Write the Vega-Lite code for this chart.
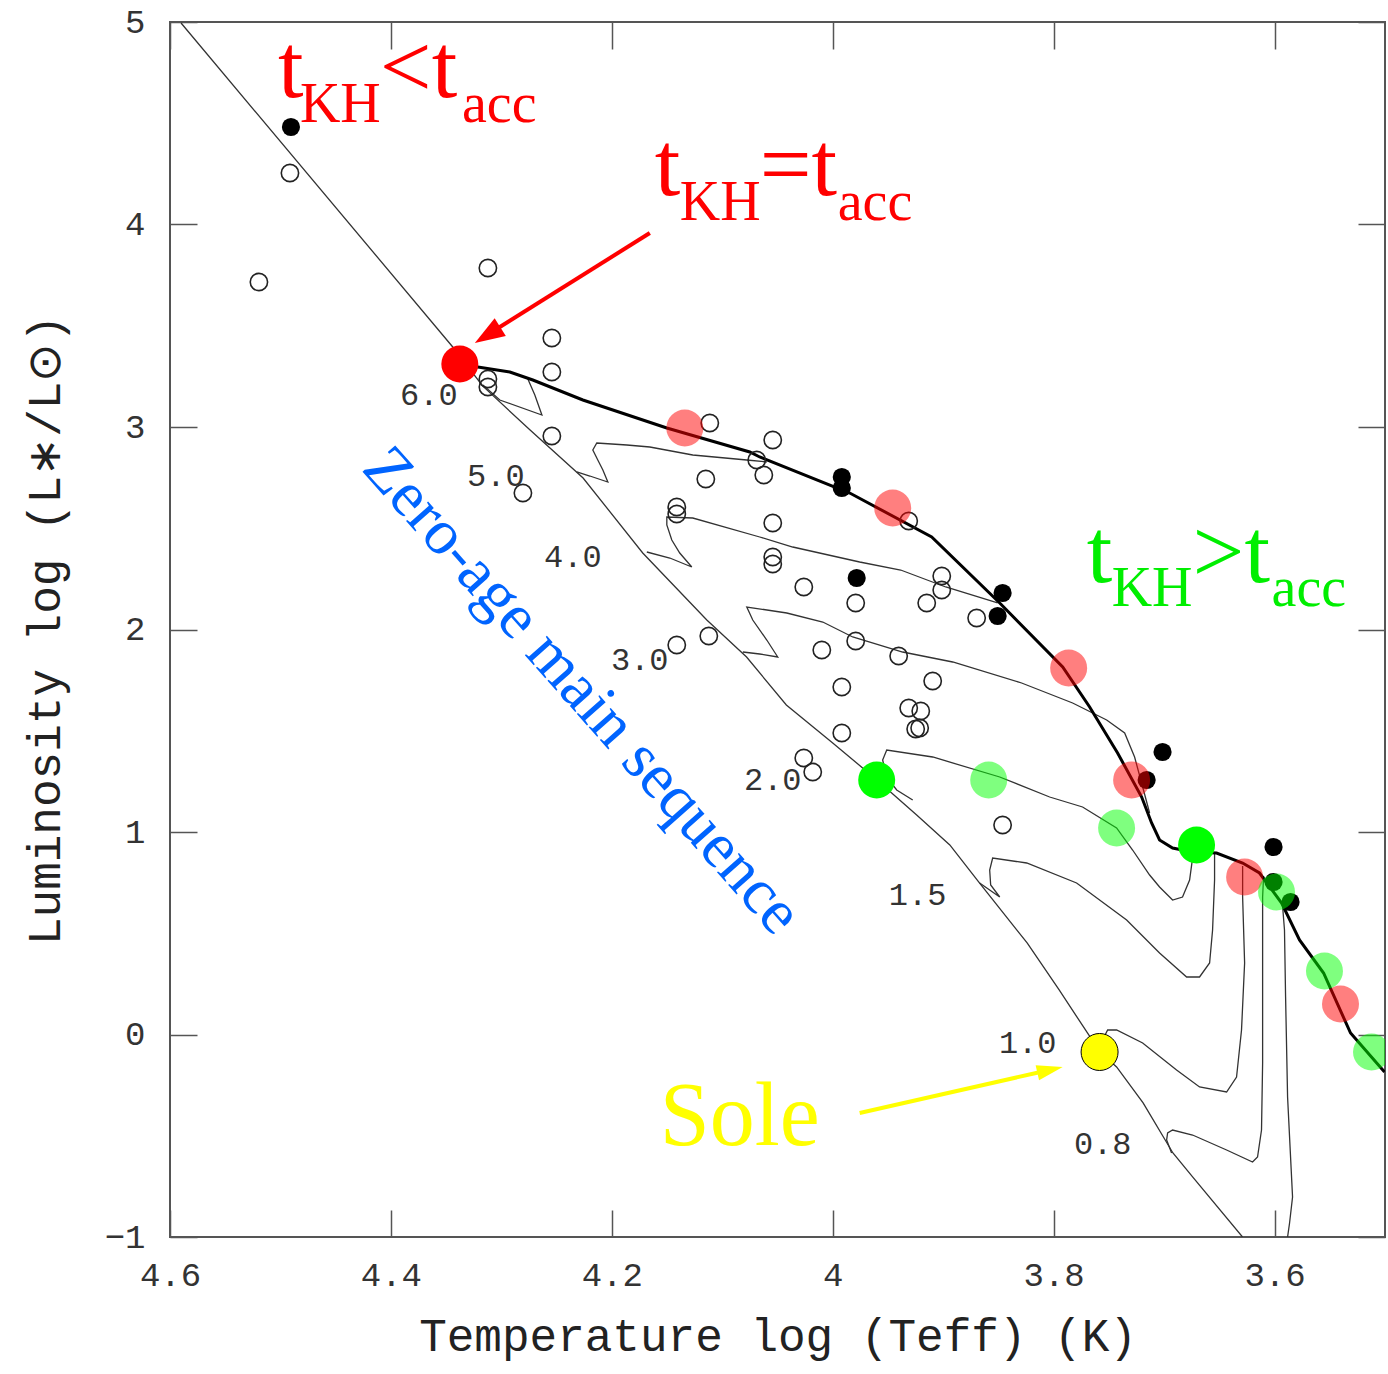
{
  "$schema": "https://vega.github.io/schema/vega-lite/v6.json",
  "width": 1215,
  "height": 1215,
  "autosize": "none",
  "padding": {"left": 170, "top": 22, "right": 3, "bottom": 137},
  "background": "white",
  "config": {
    "view": {"stroke": "#555", "strokeWidth": 2},
    "axis": {
      "labelFont": "Liberation Mono", "titleFont": "Liberation Mono",
      "labelColor": "#333", "titleColor": "#222", "tickColor": "#555",
      "grid": false, "domain": false, "labelFontSize": 34, "titleFontSize": 46,
      "titleFontWeight": "normal", "labelFlush": false, "labelOverlap": false
    }
  },
  "datasets": {
    "tracks": [
      {"track":"ZAMS","i":0,"x":4.590,"y":4.995},{"track":"ZAMS","i":1,"x":4.344,"y":3.395},{"track":"ZAMS","i":2,"x":4.317,"y":3.203},{"track":"ZAMS","i":3,"x":4.274,"y":2.985},{"track":"ZAMS","i":4,"x":4.226,"y":2.748},{"track":"ZAMS","i":5,"x":4.172,"y":2.378},{"track":"ZAMS","i":6,"x":4.114,"y":2.047},{"track":"ZAMS","i":7,"x":4.078,"y":1.864},{"track":"ZAMS","i":8,"x":4.042,"y":1.627},{"track":"ZAMS","i":9,"x":4.000,"y":1.440},{"track":"ZAMS","i":10,"x":3.960,"y":1.257},{"track":"ZAMS","i":11,"x":3.924,"y":1.084},{"track":"ZAMS","i":12,"x":3.894,"y":0.936},{"track":"ZAMS","i":13,"x":3.867,"y":0.748},{"track":"ZAMS","i":14,"x":3.824,"y":0.452},{"track":"ZAMS","i":15,"x":3.795,"y":0.220},{"track":"ZAMS","i":16,"x":3.767,"y":-0.012},{"track":"ZAMS","i":17,"x":3.758,"y":-0.086},{"track":"ZAMS","i":18,"x":3.743,"y":-0.160},{"track":"ZAMS","i":19,"x":3.719,"y":-0.338},{"track":"ZAMS","i":20,"x":3.692,"y":-0.585},{"track":"ZAMS","i":21,"x":3.674,"y":-0.704},{"track":"ZAMS","i":22,"x":3.629,"y":-1.000},
      {"track":"6.0","i":0,"x":4.2760,"y":3.2370},{"track":"6.0","i":1,"x":4.2697,"y":3.1580},{"track":"6.0","i":2,"x":4.2633,"y":3.0593},{"track":"6.0","i":3,"x":4.3014,"y":3.1333},{"track":"6.0","i":4,"x":4.3167,"y":3.2074},
      {"track":"5.0","i":0,"x":4.0597,"y":2.8272},{"track":"5.0","i":1,"x":4.0778,"y":2.8370},{"track":"5.0","i":2,"x":4.1267,"y":2.8617},{"track":"5.0","i":3,"x":4.1656,"y":2.9012},{"track":"5.0","i":4,"x":4.1864,"y":2.9111},{"track":"5.0","i":5,"x":4.2136,"y":2.9210},{"track":"5.0","i":6,"x":4.2172,"y":2.8864},{"track":"5.0","i":7,"x":4.2127,"y":2.8370},{"track":"5.0","i":8,"x":4.2081,"y":2.7877},{"track":"5.0","i":9,"x":4.2036,"y":2.7284},{"track":"5.0","i":10,"x":4.2199,"y":2.7580},{"track":"5.0","i":11,"x":4.2317,"y":2.7778},
      {"track":"4.0","i":0,"x":3.8507,"y":2.1309},{"track":"4.0","i":1,"x":3.8977,"y":2.2099},{"track":"4.0","i":2,"x":3.9385,"y":2.2938},{"track":"4.0","i":3,"x":3.9756,"y":2.3333},{"track":"4.0","i":4,"x":4.0362,"y":2.4074},{"track":"4.0","i":5,"x":4.0661,"y":2.4568},{"track":"4.0","i":6,"x":4.1267,"y":2.5506},{"track":"4.0","i":7,"x":4.1502,"y":2.5556},{"track":"4.0","i":8,"x":4.1502,"y":2.5160},{"track":"4.0","i":9,"x":4.1457,"y":2.4420},{"track":"4.0","i":10,"x":4.1385,"y":2.3778},{"track":"4.0","i":11,"x":4.1276,"y":2.3086},{"track":"4.0","i":12,"x":4.1475,"y":2.3531},{"track":"4.0","i":13,"x":4.1683,"y":2.3827},
      {"track":"3.0","i":0,"x":3.7131,"y":1.0938},{"track":"3.0","i":1,"x":3.7194,"y":1.2222},{"track":"3.0","i":2,"x":3.7267,"y":1.3704},{"track":"3.0","i":3,"x":3.7357,"y":1.4889},{"track":"3.0","i":4,"x":3.7520,"y":1.5531},{"track":"3.0","i":5,"x":3.7828,"y":1.6370},{"track":"3.0","i":6,"x":3.8290,"y":1.7358},{"track":"3.0","i":7,"x":3.8914,"y":1.8395},{"track":"3.0","i":8,"x":3.9367,"y":1.8889},{"track":"3.0","i":9,"x":3.9819,"y":1.9630},{"track":"3.0","i":10,"x":4.0090,"y":2.0370},{"track":"3.0","i":11,"x":4.0416,"y":2.0815},{"track":"3.0","i":12,"x":4.0778,"y":2.1111},{"track":"3.0","i":13,"x":4.0724,"y":2.0469},{"track":"3.0","i":14,"x":4.0597,"y":1.9481},{"track":"3.0","i":15,"x":4.0498,"y":1.8642},{"track":"3.0","i":16,"x":4.0661,"y":1.8790},{"track":"3.0","i":17,"x":4.0814,"y":1.8889},
      {"track":"2.0","i":0,"x":3.9276,"y":1.1580},{"track":"2.0","i":1,"x":3.9421,"y":1.2074},{"track":"2.0","i":2,"x":3.9511,"y":1.2716},{"track":"2.0","i":3,"x":3.9548,"y":1.3556},{"track":"2.0","i":4,"x":3.9511,"y":1.4049},{"track":"2.0","i":5,"x":3.9095,"y":1.3704},{"track":"2.0","i":6,"x":3.8488,"y":1.2716},{"track":"2.0","i":7,"x":3.8036,"y":1.1728},{"track":"2.0","i":8,"x":3.7738,"y":1.1235},{"track":"2.0","i":9,"x":3.7430,"y":1.0198},{"track":"2.0","i":10,"x":3.7285,"y":0.9111},{"track":"2.0","i":11,"x":3.7131,"y":0.7877},{"track":"2.0","i":12,"x":3.7041,"y":0.7284},{"track":"2.0","i":13,"x":3.6923,"y":0.6642},{"track":"2.0","i":14,"x":3.6833,"y":0.6790},{"track":"2.0","i":15,"x":3.6769,"y":0.7630},{"track":"2.0","i":16,"x":3.6742,"y":0.8716},{"track":"2.0","i":17,"x":3.6706,"y":0.9358},
      {"track":"1.5","i":0,"x":3.8670,"y":0.7481},{"track":"1.5","i":1,"x":3.8488,"y":0.6790},{"track":"1.5","i":2,"x":3.8570,"y":0.7383},{"track":"1.5","i":3,"x":3.8579,"y":0.8123},{"track":"1.5","i":4,"x":3.8552,"y":0.8716},{"track":"1.5","i":5,"x":3.8244,"y":0.8469},{"track":"1.5","i":6,"x":3.7792,"y":0.7481},{"track":"1.5","i":7,"x":3.7339,"y":0.5654},{"track":"1.5","i":8,"x":3.7041,"y":0.4025},{"track":"1.5","i":9,"x":3.6796,"y":0.2840},{"track":"1.5","i":10,"x":3.6679,"y":0.2840},{"track":"1.5","i":11,"x":3.6588,"y":0.3531},{"track":"1.5","i":12,"x":3.6561,"y":0.5160},{"track":"1.5","i":13,"x":3.6543,"y":0.7630},{"track":"1.5","i":14,"x":3.6543,"y":0.8963},
      {"track":"1.0","i":0,"x":3.7557,"y":-0.0272},{"track":"1.0","i":1,"x":3.7511,"y":0.0222},{"track":"1.0","i":2,"x":3.7430,"y":0.0222},{"track":"1.0","i":3,"x":3.7194,"y":-0.0420},{"track":"1.0","i":4,"x":3.6887,"y":-0.1753},{"track":"1.0","i":5,"x":3.6679,"y":-0.2593},{"track":"1.0","i":6,"x":3.6434,"y":-0.2840},{"track":"1.0","i":7,"x":3.6344,"y":-0.2099},{"track":"1.0","i":8,"x":3.6299,"y":0.0222},{"track":"1.0","i":9,"x":3.6271,"y":0.3531},{"track":"1.0","i":10,"x":3.6289,"y":0.6790},{"track":"1.0","i":11,"x":3.6289,"y":0.8321},
      {"track":"0.8","i":0,"x":3.6932,"y":-0.5852},{"track":"0.8","i":1,"x":3.6977,"y":-0.5210},{"track":"0.8","i":2,"x":3.6968,"y":-0.4864},{"track":"0.8","i":3,"x":3.6923,"y":-0.4716},{"track":"0.8","i":4,"x":3.6742,"y":-0.4963},{"track":"0.8","i":5,"x":3.6434,"y":-0.5704},{"track":"0.8","i":6,"x":3.6199,"y":-0.6296},{"track":"0.8","i":7,"x":3.6154,"y":-0.6049},{"track":"0.8","i":8,"x":3.6118,"y":-0.4716},{"track":"0.8","i":9,"x":3.6108,"y":-0.1407},{"track":"0.8","i":10,"x":3.6108,"y":0.3531},{"track":"0.8","i":11,"x":3.6108,"y":0.6790},{"track":"0.8","i":12,"x":3.6099,"y":0.7827},
      {"track":"0.6","i":0,"x":3.5928,"y":0.6395},{"track":"0.6","i":1,"x":3.5910,"y":0.5160},{"track":"0.6","i":2,"x":3.5900,"y":0.1852},{"track":"0.6","i":3,"x":3.5882,"y":-0.3086},{"track":"0.6","i":4,"x":3.5837,"y":-0.8025},{"track":"0.6","i":5,"x":3.5864,"y":-0.9309},{"track":"0.6","i":6,"x":3.5882,"y":-1.0}
    ],
    "birthline": [
      {"i":0,"x":4.3376,"y":3.3111},{"i":1,"x":4.3213,"y":3.2963},{"i":2,"x":4.2923,"y":3.2716},{"i":3,"x":4.2715,"y":3.2321},{"i":4,"x":4.2262,"y":3.1333},{"i":5,"x":4.1502,"y":2.9951},{"i":6,"x":4.0751,"y":2.8765},{"i":7,"x":4.0661,"y":2.8519},{"i":8,"x":3.9846,"y":2.6741},{"i":9,"x":3.9104,"y":2.4568},{"i":10,"x":3.8488,"y":2.1309},{"i":11,"x":3.7918,"y":1.8148},{"i":12,"x":3.7674,"y":1.6173},{"i":13,"x":3.7421,"y":1.3901},{"i":14,"x":3.7203,"y":1.1728},{"i":15,"x":3.7113,"y":1.0444},{"i":16,"x":3.7041,"y":0.9605},{"i":17,"x":3.6923,"y":0.9210},{"i":18,"x":3.6742,"y":0.9012},{"i":19,"x":3.6525,"y":0.8963},{"i":20,"x":3.6289,"y":0.8469},{"i":21,"x":3.6136,"y":0.7975},{"i":22,"x":3.5936,"y":0.6494},{"i":23,"x":3.5774,"y":0.4667},{"i":24,"x":3.5556,"y":0.3037},{"i":25,"x":3.5312,"y":0.0074},{"i":26,"x":3.5004,"y":-0.1852}
    ],
    "open": [
      {"x":4.5195,"y":3.716},{"x":4.4914,"y":4.2543},{"x":4.3122,"y":3.7852},{"x":4.2543,"y":3.4395},{"x":4.2543,"y":3.2716},{"x":4.2543,"y":2.9556},{"x":4.3122,"y":3.2370},{"x":4.3122,"y":3.1975},{"x":4.2805,"y":2.6741},{"x":4.1113,"y":3.0198},{"x":4.0543,"y":2.9358},{"x":4.0688,"y":2.8370},{"x":4.0624,"y":2.7630},{"x":4.1149,"y":2.7432},{"x":4.1412,"y":2.6049},{"x":4.1412,"y":2.5704},{"x":4.0543,"y":2.5259},{"x":4.0543,"y":2.3580},{"x":4.0543,"y":2.3235},{"x":4.0262,"y":2.2099},{"x":3.9792,"y":2.1309},{"x":3.9312,"y":2.5358},{"x":3.9149,"y":2.1309},{"x":3.9013,"y":2.2642},{"x":3.9013,"y":2.1951},{"x":3.8697,"y":2.0568},{"x":4.0099,"y":1.8988},{"x":3.9792,"y":1.9432},{"x":3.9403,"y":1.8691},{"x":3.9095,"y":1.7457},{"x":3.9918,"y":1.7160},{"x":4.1122,"y":1.9679},{"x":4.1412,"y":1.9235},{"x":3.9312,"y":1.6123},{"x":3.9203,"y":1.5975},{"x":3.9249,"y":1.5086},{"x":3.9213,"y":1.5136},{"x":3.9918,"y":1.4889},{"x":4.0262,"y":1.3654},{"x":4.0181,"y":1.2963},{"x":3.8462,"y":1.0346}
    ],
    "black": [
      {"x":4.4905,"y":4.4815},{"x":3.9918,"y":2.7531},{"x":3.9918,"y":2.6988},{"x":3.9783,"y":2.2543},{"x":3.8462,"y":2.1802},{"x":3.8507,"y":2.0667},{"x":3.7014,"y":1.3951},{"x":3.7158,"y":1.2568},{"x":3.6009,"y":0.9259},{"x":3.6009,"y":0.7531},{"x":3.5855,"y":0.6543}
    ],
    "big": [
      {"kind":"eq","x":4.3376,"y":3.3111},
      {"kind":"lt","x":4.1339,"y":2.9951},{"kind":"lt","x":3.9457,"y":2.6},{"kind":"lt","x":3.7864,"y":1.8099},{"kind":"lt","x":3.7294,"y":1.2568},{"kind":"lt","x":3.6271,"y":0.7778},{"kind":"lt","x":3.5403,"y":0.1506},
      {"kind":"gt","x":3.8588,"y":1.2568},{"kind":"gt","x":3.7430,"y":1.0198},{"kind":"gt","x":3.5982,"y":0.7037},{"kind":"gt","x":3.5548,"y":0.3136},{"kind":"gt","x":3.5122,"y":-0.0864},
      {"kind":"gteq","x":3.9602,"y":1.2568},{"kind":"gteq","x":3.6706,"y":0.9358}
    ],
    "sun": [{"x":3.7584,"y":-0.0864}],
    "masses": [
      {"label":"6.0","x":4.3656,"y":3.158},{"label":"5.0","x":4.305,"y":2.758},{"label":"4.0","x":4.2353,"y":2.358},{"label":"3.0","x":4.1747,"y":1.849},{"label":"2.0","x":4.0543,"y":1.257},{"label":"1.5","x":3.9231,"y":0.689},{"label":"1.0","x":3.8235,"y":-0.042},{"label":"0.8","x":3.7556,"y":-0.541}
    ],
    "redMain": [{"t":"t","x":4.5023,"y":4.6296},{"t":"<t","x":4.4100,"y":4.6296},{"t":"t","x":4.1611,"y":4.1457},{"t":"=t","x":4.0661,"y":4.1457}],
    "redSub": [{"t":"KH","x":4.4824,"y":4.5062},{"t":"acc","x":4.3357,"y":4.5062},{"t":"KH","x":4.1385,"y":4.0222},{"t":"acc","x":3.9955,"y":4.0222}],
    "greenMain": [{"t":"t","x":3.7701,"y":2.2346},{"t":">t","x":3.6742,"y":2.2346}],
    "greenSub": [{"t":"KH","x":3.7475,"y":2.1160},{"t":"acc","x":3.6027,"y":2.1160}],
    "sole": [{"t":"Sole","x":4.1566,"y":-0.5457}],
    "zams": [{"t":"Zero-age main sequence","x":4.2271,"y":1.6963}],
    "redArrow": [{"x":4.1656,"y":3.9580,"x2":4.3086,"y2":3.4691}],
    "redHead": [{"x":4.3240,"y":3.4148}],
    "yellowArrow": [{"x":3.9756,"y":-0.3877,"x2":3.8078,"y2":-0.1802}],
    "yellowHead": [{"x":3.7918,"y":-0.1605}]
  },
  "layer": [
    {
      "data": {"name": "tracks"},
      "mark": {"type": "line", "color": "#333", "strokeWidth": 1.3, "clip": true},
      "encoding": {
        "x": {"field": "x", "type": "quantitative",
          "scale": {"domain": [4.6, 3.5], "nice": false, "zero": false},
          "axis": {"orient": "bottom", "values": [4.6, 4.4, 4.2, 4, 3.8, 3.6], "format": "~g", "tickSize": -27, "tickWidth": 1.5, "labelPadding": 48, "labelBaseline": "top", "title": "Temperature log (Teff) (K)", "titlePadding": 22}},
        "y": {"field": "y", "type": "quantitative",
          "scale": {"domain": [-1, 5], "nice": false, "zero": false},
          "axis": {"orient": "left", "values": [-1, 0, 1, 2, 3, 4, 5], "format": "~g", "tickSize": -27, "tickWidth": 1.5, "labelPadding": 52, "title": "Luminosity log (L∗/L⊙)", "titlePadding": 35}},
        "detail": {"field": "track"},
        "order": {"field": "i", "type": "quantitative"}
      }
    },
    {
      "data": {"name": "birthline"},
      "mark": {"type": "line", "color": "#000", "strokeWidth": 3, "clip": true},
      "encoding": {
        "x": {"field": "x", "type": "quantitative",
          "axis": {"orient": "top", "values": [4.6, 4.4, 4.2, 4, 3.8, 3.6], "labels": false, "title": null, "tickSize": -27, "tickWidth": 1.5}},
        "y": {"field": "y", "type": "quantitative",
          "axis": {"orient": "right", "values": [-1, 0, 1, 2, 3, 4, 5], "labels": false, "title": null, "tickSize": -27, "tickWidth": 1.5}},
        "order": {"field": "i", "type": "quantitative"}
      }
    },
    {
      "data": {"name": "open"},
      "mark": {"type": "point", "filled": false, "stroke": "#222", "strokeWidth": 1.6, "size": 300, "opacity": 1},
      "encoding": {"x": {"field": "x", "type": "quantitative", "axis": null}, "y": {"field": "y", "type": "quantitative", "axis": null}}
    },
    {
      "data": {"name": "black"},
      "mark": {"type": "point", "filled": true, "color": "#000", "size": 330, "opacity": 1},
      "encoding": {"x": {"field": "x", "type": "quantitative", "axis": null}, "y": {"field": "y", "type": "quantitative", "axis": null}}
    },
    {
      "data": {"name": "big"},
      "mark": {"type": "point", "filled": true, "size": 1369, "opacity": 1, "clip": true},
      "encoding": {
        "x": {"field": "x", "type": "quantitative", "axis": null},
        "y": {"field": "y", "type": "quantitative", "axis": null},
        "color": {"field": "kind", "type": "nominal", "legend": null,
          "scale": {"domain": ["eq", "lt", "gt", "gteq"], "range": ["#ff0000", "rgba(255,0,0,0.5)", "rgba(0,255,0,0.5)", "#00ff00"]}}
      }
    },
    {
      "data": {"name": "sun"},
      "mark": {"type": "point", "filled": true, "fill": "#ffff00", "stroke": "#000", "strokeWidth": 1, "size": 1369, "opacity": 1},
      "encoding": {"x": {"field": "x", "type": "quantitative", "axis": null}, "y": {"field": "y", "type": "quantitative", "axis": null}}
    },
    {
      "data": {"name": "masses"},
      "mark": {"type": "text", "font": "Liberation Mono", "fontSize": 32, "color": "#333", "align": "center", "baseline": "middle"},
      "encoding": {"x": {"field": "x", "type": "quantitative", "axis": null}, "y": {"field": "y", "type": "quantitative", "axis": null}, "text": {"field": "label"}}
    },
    {
      "data": {"name": "redMain"},
      "mark": {"type": "text", "font": "Liberation Serif", "fontSize": 92, "color": "#ff0000", "align": "left", "baseline": "alphabetic"},
      "encoding": {"x": {"field": "x", "type": "quantitative", "axis": null}, "y": {"field": "y", "type": "quantitative", "axis": null}, "text": {"field": "t"}}
    },
    {
      "data": {"name": "redSub"},
      "mark": {"type": "text", "font": "Liberation Serif", "fontSize": 56, "color": "#ff0000", "align": "left", "baseline": "alphabetic"},
      "encoding": {"x": {"field": "x", "type": "quantitative", "axis": null}, "y": {"field": "y", "type": "quantitative", "axis": null}, "text": {"field": "t"}}
    },
    {
      "data": {"name": "greenMain"},
      "mark": {"type": "text", "font": "Liberation Serif", "fontSize": 92, "color": "#00ee00", "align": "left", "baseline": "alphabetic"},
      "encoding": {"x": {"field": "x", "type": "quantitative", "axis": null}, "y": {"field": "y", "type": "quantitative", "axis": null}, "text": {"field": "t"}}
    },
    {
      "data": {"name": "greenSub"},
      "mark": {"type": "text", "font": "Liberation Serif", "fontSize": 56, "color": "#00ee00", "align": "left", "baseline": "alphabetic"},
      "encoding": {"x": {"field": "x", "type": "quantitative", "axis": null}, "y": {"field": "y", "type": "quantitative", "axis": null}, "text": {"field": "t"}}
    },
    {
      "data": {"name": "sole"},
      "mark": {"type": "text", "font": "Liberation Serif", "fontSize": 90, "color": "#ffff00", "align": "left", "baseline": "alphabetic"},
      "encoding": {"x": {"field": "x", "type": "quantitative", "axis": null}, "y": {"field": "y", "type": "quantitative", "axis": null}, "text": {"field": "t"}}
    },
    {
      "data": {"name": "zams"},
      "mark": {"type": "text", "font": "Liberation Serif", "fontSize": 64, "color": "#0064ff", "align": "center", "baseline": "middle", "angle": 48.5},
      "encoding": {"x": {"field": "x", "type": "quantitative", "axis": null}, "y": {"field": "y", "type": "quantitative", "axis": null}, "text": {"field": "t"}}
    },
    {
      "data": {"name": "redArrow"},
      "mark": {"type": "rule", "color": "#ff0000", "strokeWidth": 4},
      "encoding": {"x": {"field": "x", "type": "quantitative", "axis": null}, "y": {"field": "y", "type": "quantitative", "axis": null}, "x2": {"field": "x2"}, "y2": {"field": "y2"}}
    },
    {
      "data": {"name": "redHead"},
      "mark": {"type": "point", "filled": true, "color": "#ff0000", "opacity": 1, "shape": "M0,0L-2,-0.7L-2,0.7Z", "size": 900, "angle": 147.8},
      "encoding": {"x": {"field": "x", "type": "quantitative", "axis": null}, "y": {"field": "y", "type": "quantitative", "axis": null}}
    },
    {
      "data": {"name": "yellowArrow"},
      "mark": {"type": "rule", "color": "#ffff00", "strokeWidth": 4},
      "encoding": {"x": {"field": "x", "type": "quantitative", "axis": null}, "y": {"field": "y", "type": "quantitative", "axis": null}, "x2": {"field": "x2"}, "y2": {"field": "y2"}}
    },
    {
      "data": {"name": "yellowHead"},
      "mark": {"type": "point", "filled": true, "color": "#ffff00", "opacity": 1, "shape": "M0,0L-2,-0.6L-2,0.6Z", "size": 676, "angle": 347.2},
      "encoding": {"x": {"field": "x", "type": "quantitative", "axis": null}, "y": {"field": "y", "type": "quantitative", "axis": null}}
    }
  ]
}
